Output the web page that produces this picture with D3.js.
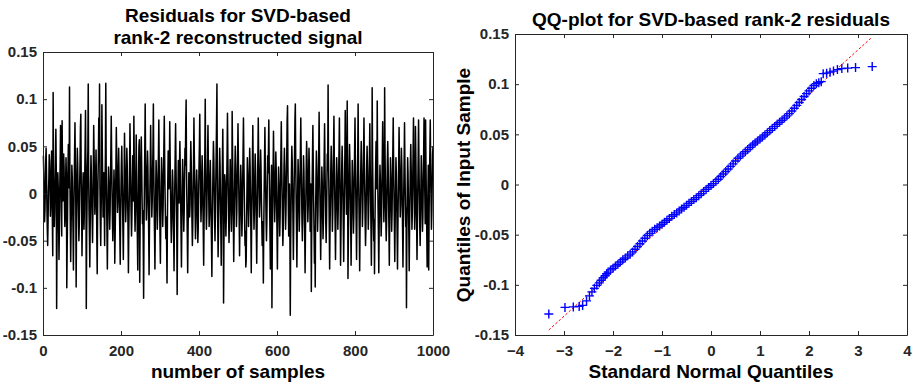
<!DOCTYPE html>
<html><head><meta charset="utf-8">
<script src="https://cdn.jsdelivr.net/npm/d3@7"></script>
<style>
html,body{margin:0;padding:0;background:#fff;}
svg{display:block;font-family:"Liberation Sans",Arial,Helvetica,sans-serif;}
</style></head><body><svg id="chart" width="913" height="384"></svg>
<script>
// Residual samples (in units of 0.001)
const residualMilli = [
40,22,-5,-30,-18,6,35,48,20,-12, -38,-55,-30,2,15,41,33,8,-24,-12, 18,45,10,-28,-66,107,20,-15,-35,-20, 12,38,68,26,-122,-48,-10,22,8,-30, -70,-38,5,33,72,30,-18,-45,77,25,
-8,15,42,28,-10,-35,-22,12,38,20, -100,-58,-20,25,52,38,6,113,18,-30, -72,-40,-5,30,18,-12,-40,-81,-25,10, 44,75,30,-5,-99,-28,15,48,30,2, -26,-50,-33,8,36,70,84,12,-20,-66,
-30,5,22,-8,-38,-20,18,50,88,30, -122,-45,-10,28,45,116,20,-18,-42,-78, -35,10,40,22,-5,-28,-52,-18,25,72, 42,10,-22,-8,20,46,12,-46,-85,-25, 15,38,80,35,116,8,-30,-55,-20,10,
94,48,12,-25,-10,22,-15,-55,5,40, 117,30,-8,-40,-80,-35,2,28,15,-12, -38,-20,12,45,82,40,5,-28,-50,-32, -2,25,8,-74,-45,-12,30,70,38,10, -20,-8,24,48,20,-15,-42,-75,-28,6,
32,50,22,-12,-40,-70,-20,15,64,36, 2,-30,-15,20,48,30,-5,-38,-84,-40, -10,28,74,38,6,-22,-45,-25,12,40, 25,-8,82,35,-12,-40,-20,15,62,22, -15,-48,-81,-30,18,50,57,-94,-35,8,
38,60,30,-5,-32,-18,-50,-111,-40,10, 48,95,40,5,-28,-12,22,45,28,-10, -42,-86,-35,0,30,72,35,8,-25,-10, 20,48,95,30,-15,-45,-80,-30,5,35, 18,-12,-38,-22,15,42,78,30,-8,-45,
-74,-30,8,38,22,-5,-35,-15,20,52, 82,35,0,-28,-48,-25,-55,-95,-30,15, 45,30,5,28,76,40,6,-30,-52,-35, -5,25,12,-20,-45,-82,-28,10,44,74, 32,-5,-38,-107,-45,2,35,18,-10,30,
55,28,-8,-42,-78,-32,5,36,20,-15, -40,-20,15,48,30,74,99,25,-12,-45, -84,-38,-10,22,8,-25,-12,30,55,35, 5,-30,-55,-35,0,32,80,42,12,-20, -48,-30,5,25,10,-22,-52,-38,-5,28,
50,84,35,2,-30,-15,18,40,20,-12, -42,-76,-30,10,45,100,30,-10,-38,-22, 12,40,72,30,-5,-35,-20,15,35,10, -25,-50,-88,-40,-5,30,55,38,8,-28, -50,-25,10,40,76,116,20,-30,-67,-40,
-10,22,48,30,-5,-38,-76,-35,0,32, 68,20,-116,-50,-15,20,12,-18,-45,-25, 10,42,85,40,5,-28,-52,-30,8,36, 18,-12,-40,-20,87,45,10,-25,-72,-38, -5,28,50,30,-2,-35,-18,15,40,74,
35,5,-28,-66,-30,2,30,15,-20,-45, -25,12,45,80,38,5,-30,-55,-40,-78, -71,-30,5,38,22,-8,-35,-15,20,48, 30,-5,-40,-84,-32,0,35,72,28,-10, -38,-20,15,42,25,-8,-42,-74,-30,5,
40,80,35,5,-25,-10,20,46,28,-5, -32,-55,-30,-48,-95,-40,0,35,70,30, 2,-28,-50,-30,8,40,22,45,78,30, -10,-42,-80,-32,5,30,-121,-45,-8,25, 66,30,0,-30,-12,18,44,25,-10,-40,
-80,-35,0,28,10,-20,-45,-25,12,42, 76,35,5,-28,-55,-38,-5,30,48,25, -8,-38,-20,15,40,78,93,30,-12,-45, -25,10,-35,-129,-55,-15,22,50,35,5, -30,-70,-28,8,40,78,95,35,-5,-38,
-78,-32,5,36,20,-12,-40,-22,15,45, 80,38,5,-28,-50,-30,8,40,25,-8, -38,-84,-40,-5,30,55,35,2,-30,-15, 20,48,30,-5,-40,-22,10,-104,-40,5, 38,72,28,-8,-40,-74,-35,-99,-20,18,
45,25,-8,-40,-22,12,45,86,35,0, -32,-70,-35,-2,28,12,-20,-48,-30,8, 40,74,32,0,-30,-52,-28,10,42,25, 115,40,5,-35,-80,-38,-5,28,50,30, -5,-40,-20,15,48,82,35,0,-32,-70,
-30,5,38,22,-10,-38,-18,15,45,80, 30,-10,-76,-42,-5,28,50,30,-2,-35, -72,-30,8,40,88,42,10,-22,20,98, 22,-90,-48,-10,25,52,32,0,-35,-76, -32,2,35,18,-15,-42,-25,12,46,80,
35,0,-32,-70,-28,10,40,95,30,-8, -40,-82,-35,0,32,55,30,-2,-35,-18, 15,45,80,35,2,-30,-55,-35,0,30, 50,28,-5,-38,-20,12,40,74,30,-5, -38,-76,-25,112,40,5,-30,-50,-28,-85,
-40,0,30,55,35,5,98,30,-10,-42, -84,-35,-2,30,15,-15,-45,-28,8,40, 76,35,2,-30,-10,112,45,8,-28,-50, -32,2,35,55,30,-5,-38,-76,-30,5, 38,20,-12,-40,-22,15,45,80,32,-2,
-35,-72,-30,5,38,22,-10,-42,-80,-35, 0,32,70,35,5,-25,-12,20,48,30, -5,-38,-78,-32,2,35,75,30,-5,-35, -15,-121,-40,5,38,22,-10,-40,-82,-35, 0,32,52,28,-5,-38,-20,15,45,80,
30,-5,-38,-20,71,40,5,-30,-70,-30, 5,38,78,32,0,-35,-55,-28,8,40, 20,-10,-40,-25,10,42,80,35,0,-32, 78,30,-5,-40,-78,-35,0,30,-81,-20, 18,45,78,30,-5,-38,-20,12,42,50
];

const sampleTicks = [0, 200, 400, 600, 800, 1000];
const residualTicks = [-0.15, -0.1, -0.05, 0, 0.05, 0.1, 0.15];
const normalTicks = [-4, -3, -2, -1, 0, 1, 2, 3, 4];

// QQ-plot points
const qqTheoretical = [-3.31,-2.98,-2.81,-2.69,-2.62,-2.54,-2.48,-2.43,-2.38,-2.33,-2.28,-2.24,-2.20,-2.16,-2.13,
-2.10,-2.05,-2.00,-1.95,-1.90,-1.85,-1.80,-1.75,-1.70,-1.65,-1.60,-1.55,-1.50,-1.45,-1.40,-1.35,-1.30,-1.25,-1.20,-1.15,-1.10,-1.05,-1.00,-0.95,-0.90,-0.85,-0.80,-0.75,-0.70,-0.65,-0.60,-0.55,-0.50,-0.45,-0.40,-0.35,-0.30,-0.25,-0.20,-0.15,-0.10,-0.05,0.00,0.05,0.10,0.15,0.20,0.25,0.30,0.35,0.40,0.45,0.50,0.55,0.60,0.65,0.70,0.75,0.80,0.85,0.90,0.95,1.00,1.05,1.10,1.15,1.20,1.25,1.30,1.35,1.40,1.45,1.50,1.55,1.60,1.65,1.70,1.75,1.80,1.85,1.90,1.95,2.00,2.05,2.10,2.15,2.20,2.25,
2.29,2.36,2.43,2.50,2.58,2.67,2.79,2.95,3.29];
const qqSample = [-0.129,-0.1225,-0.122,-0.1215,-0.1205,-0.116,-0.111,-0.107,-0.1035,-0.1005,-0.098,-0.0955,-0.093,-0.091,-0.089,
-0.0873,-0.0851,-0.0834,-0.0812,-0.0795,-0.0773,-0.0750,-0.0733,-0.0711,-0.0694,-0.0672,-0.0645,-0.0618,-0.0590,-0.0563,-0.0536,-0.0509,-0.0487,-0.0465,-0.0447,-0.0430,-0.0413,-0.0396,-0.0376,-0.0357,-0.0340,-0.0317,-0.0300,-0.0283,-0.0263,-0.0244,-0.0227,-0.0208,-0.0188,-0.0170,-0.0150,-0.0131,-0.0111,-0.0092,-0.0069,-0.0049,-0.0030,-0.0010,0.0009,0.0031,0.0053,0.0079,0.0105,0.0130,0.0155,0.0181,0.0206,0.0234,0.0261,0.0283,0.0305,0.0327,0.0349,0.0371,0.0394,0.0413,0.0433,0.0453,0.0474,0.0494,0.0516,0.0537,0.0558,0.0579,0.0600,0.0621,0.0641,0.0662,0.0684,0.0706,0.0733,0.0760,0.0789,0.0817,0.0847,0.0877,0.0906,0.0933,0.0960,0.0987,0.1005,0.1015,0.1025,
0.1105,0.111,0.112,0.113,0.1145,0.1155,0.116,0.1165,0.1175];
const refLineX = [-3.31, 3.29];
const refLineY = [-0.145, 0.147];

const svg = d3.select("#chart");
const AX = "#262626";
const fmt = d => (d === 0 ? "0" : String(+d.toFixed(2)));

function frame(g, x, y, xTicks, yTicks, xFmt) {
  const [x0, x1] = x.range(), [y0, y1] = y.range();
  const style = a => {
    a.selectAll("path.domain").attr("stroke", AX).attr("stroke-width", 1);
    a.selectAll(".tick line").attr("stroke", AX).attr("stroke-width", 1);
    a.selectAll("text").attr("fill", AX).attr("font-size", 15).attr("font-weight", "bold")
      .attr("font-family", '"Liberation Sans",Arial,sans-serif');
  };
  g.append("g").attr("transform", `translate(0,${y0})`)
    .call(d3.axisBottom(x).tickValues(xTicks).tickSize(-4).tickSizeOuter(0).tickPadding(10).tickFormat(xFmt)).call(style);
  g.append("g").attr("transform", `translate(0,${y1})`)
    .call(d3.axisTop(x).tickValues(xTicks).tickSize(-4).tickSizeOuter(0).tickFormat("")).call(style);
  g.append("g").attr("transform", `translate(${x0},0)`)
    .call(d3.axisLeft(y).tickValues(yTicks).tickSize(-4).tickSizeOuter(0).tickPadding(6).tickFormat(fmt)).call(style);
  g.append("g").attr("transform", `translate(${x1},0)`)
    .call(d3.axisRight(y).tickValues(yTicks).tickSize(-4).tickSizeOuter(0).tickFormat("")).call(style);
}

function label(txt, x, y, size, rot) {
  const t = svg.append("text").attr("x", x).attr("y", y).attr("text-anchor", "middle")
    .attr("font-size", size).attr("font-weight", "bold").attr("fill", "#000").text(txt);
  if (rot) t.attr("transform", `rotate(-90,${x},${y})`);
  return t;
}

// ---- Left panel ----
const xL = d3.scaleLinear().domain([0, 1000]).range([43, 433]);
const yL = d3.scaleLinear().domain([-0.15, 0.15]).range([335, 52]);
const gL = svg.append("g");
gL.append("path")
  .datum(residualMilli.map((v, i) => [i + 1, v / 1000]))
  .attr("fill", "none").attr("stroke", "#000").attr("stroke-width", 1.5).attr("stroke-linejoin", "round")
  .attr("d", d3.line().x(d => xL(d[0])).y(d => yL(d[1])));
frame(gL, xL, yL, sampleTicks, residualTicks, d3.format("d"));
label("Residuals for SVD-based", 238, 22, 19);
label("rank-2 reconstructed signal", 238, 44, 19);
label("number of samples", 238, 378, 19);

// ---- Right panel ----
const xR = d3.scaleLinear().domain([-4, 4]).range([515, 907]);
const yR = d3.scaleLinear().domain([-0.15, 0.15]).range([335, 34]);
const gR = svg.append("g");
gR.append("path")
  .datum(d3.zip(refLineX, refLineY))
  .attr("fill", "none").attr("stroke", "#ff0000").attr("stroke-width", 1).attr("stroke-dasharray", "2.5,2")
  .attr("d", d3.line().x(d => xR(d[0])).y(d => yR(d[1])));
const n = Math.min(qqTheoretical.length, qqSample.length);
const pts = d3.range(n).map(i => [qqTheoretical[i], qqSample[i]]);
gR.append("g").selectAll("path").data(pts).join("path")
  .attr("transform", d => `translate(${xR(d[0])},${yR(d[1])})`)
  .attr("d", "M-4.5,0H4.5M0,-4.5V4.5")
  .attr("stroke", "#0000ff").attr("stroke-width", 1.4).attr("fill", "none");
frame(gR, xR, yR, normalTicks, residualTicks, d3.format("d"));
label("QQ-plot for SVD-based rank-2 residuals", 711, 26, 19);
label("Standard Normal Quantiles", 711, 378, 19);
label("Quantiles of Input Sample", 470, 185, 19, true);
</script></body></html>
